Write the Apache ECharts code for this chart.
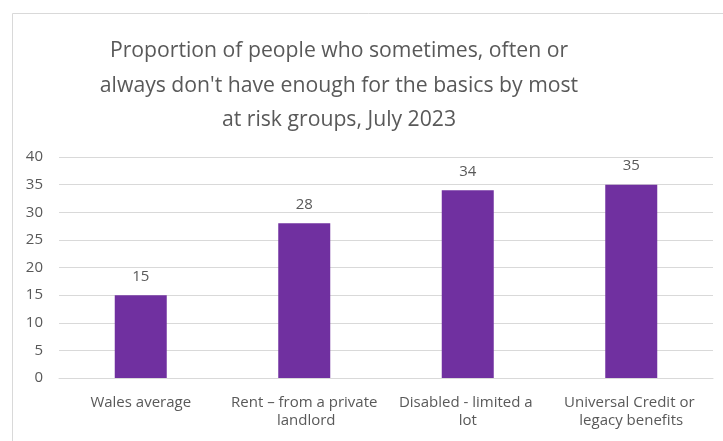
<!DOCTYPE html>
<html>
<head>
<meta charset="utf-8">
<script src="https://cdn.jsdelivr.net/npm/echarts@6/dist/echarts.min.js"></script>
<style>
  html, body { margin: 0; padding: 0; background: #fff; }
  #chart { width: 723px; height: 441px; }
</style>
</head>
<body>
<div id="chart"></div>
<script>
// Groups most at risk and the share (%) who lack enough for the basics
const categories = [
  'Wales average',
  'Rent \u2013 from a private landlord',
  'Disabled - limited a lot',
  'Universal Credit or legacy benefits'
];
const values = [15, 28, 34, 35];
const yTicks = [0, 5, 10, 15, 20, 25, 30, 35, 40];

const FONT = '"Open Sans", Lato, sans-serif';
const TEXT = '#595959';
const GRID = '#D9D9D9';

const chart = echarts.init(document.getElementById('chart'), null, { renderer: 'canvas' });
chart.setOption({
  animation: false,
  backgroundColor: '#fff',
  graphic: [{
    type: 'rect',
    shape: { x: 12.5, y: 13.5, width: 760, height: 480 },
    style: { fill: 'none', stroke: GRID, lineWidth: 1 },
    silent: true,
    z: -1
  }],
  title: {
    text: 'Proportion of people who sometimes, often or\nalways don\'t have enough for the basics by most\nat risk groups, July 2023',
    left: 334,
    top: 29,
    textAlign: 'center',
    textStyle: {
      fontFamily: FONT,
      fontSize: 21.2,
      fontWeight: 'normal',
      color: TEXT,
      lineHeight: 34.5
    }
  },
  grid: { left: 59, right: 10, top: 157, bottom: 63, containLabel: false },
  xAxis: {
    type: 'category',
    data: categories,
    axisLine: { lineStyle: { color: GRID } },
    axisTick: { show: false },
    axisLabel: {
      color: TEXT,
      fontFamily: FONT,
      fontSize: 15,
      lineHeight: 18,
      margin: 16,
      interval: 0,
      width: 155,
      overflow: 'break'
    }
  },
  yAxis: {
    type: 'value',
    min: yTicks[0],
    max: yTicks[yTicks.length - 1],
    interval: yTicks[1] - yTicks[0],
    axisLine: { show: false },
    axisTick: { show: false },
    splitLine: { lineStyle: { color: GRID, width: 1 } },
    axisLabel: {
      color: TEXT,
      fontFamily: FONT,
      fontSize: 15,
      margin: 16
    }
  },
  series: [{
    type: 'bar',
    data: values,
    barWidth: 52,
    itemStyle: { color: '#7030A0' },
    label: {
      show: true,
      position: 'top',
      distance: 11,
      color: TEXT,
      fontFamily: FONT,
      fontSize: 15
    }
  }]
});
</script>
</body>
</html>
